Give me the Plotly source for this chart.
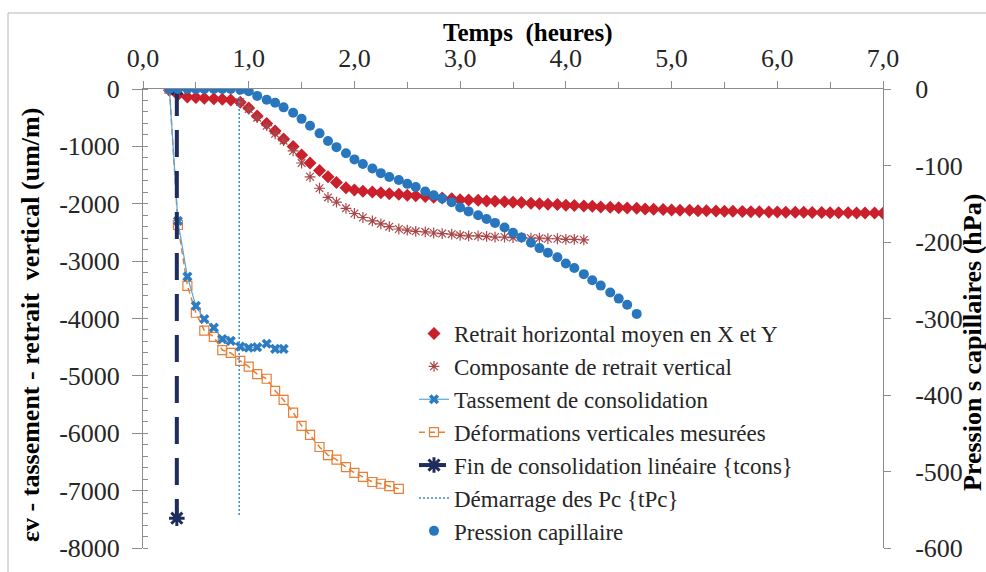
import plotly.graph_objects as go

# ---------------- data ----------------
# time grid (hours), one reading every 5 minutes
temps_h = [0.25, 0.33, 0.42, 0.50, 0.58, 0.67, 0.75, 0.83, 0.92, 1.00,
           1.08, 1.17, 1.25, 1.33, 1.42, 1.50, 1.58, 1.67, 1.75, 1.83,
           1.92, 2.00, 2.08, 2.17, 2.25, 2.33, 2.42, 2.50, 2.58, 2.67,
           2.75, 2.83, 2.92, 3.00, 3.08, 3.17, 3.25, 3.33, 3.42, 3.50,
           3.58, 3.67, 3.75, 3.83, 3.92, 4.00, 4.08, 4.17, 4.25, 4.33,
           4.42, 4.50, 4.58, 4.67, 4.75, 4.83, 4.92, 5.00, 5.08, 5.17,
           5.25, 5.33, 5.42, 5.50, 5.58, 5.67, 5.75, 5.83, 5.92, 6.00,
           6.08, 6.17, 6.25, 6.33, 6.42, 6.50, 6.58, 6.67, 6.75, 6.83,
           6.92, 7.00]

# Retrait horizontal moyen en X et Y (um/m), from t = 0.25 h
retrait_horizontal = [-20, -100, -140, -150, -160, -170, -180, -190, -230, -330,
                      -470, -600, -730, -870, -1000, -1150, -1290, -1420, -1530, -1630,
                      -1720, -1760, -1780, -1795, -1810, -1825, -1835, -1850, -1860, -1875,
                      -1885, -1900, -1915, -1930, -1935, -1940, -1950, -1955, -1965, -1975,
                      -1980, -1990, -2000, -2010, -2015, -2025, -2030, -2040, -2045, -2055,
                      -2060, -2070, -2075, -2080, -2090, -2095, -2100, -2110, -2112, -2115,
                      -2120, -2122, -2125, -2130, -2132, -2135, -2138, -2140, -2142, -2145,
                      -2147, -2148, -2150, -2152, -2153, -2155, -2157, -2158, -2160, -2162,
                      -2163, -2165]

# Composante de retrait vertical (um/m), from t = 0.92 h
temps_composante = [0.92, 1.00, 1.08, 1.17, 1.25, 1.33, 1.42, 1.50, 1.58, 1.67,
                    1.75, 1.83, 1.92, 2.00, 2.08, 2.17, 2.25, 2.33, 2.42, 2.50,
                    2.58, 2.67, 2.75, 2.83, 2.92, 3.00, 3.08, 3.17, 3.25, 3.33,
                    3.42, 3.50, 3.58, 3.67, 3.75, 3.83, 3.92, 4.00, 4.08, 4.17]
composante_verticale = [-230, -350, -500, -640, -780, -900, -1080, -1290, -1530, -1730,
                        -1890, -1970, -2080, -2170, -2240, -2300, -2350, -2400, -2440, -2460,
                        -2480, -2490, -2510, -2520, -2530, -2550, -2560, -2560, -2570, -2580,
                        -2580, -2590, -2590, -2600, -2600, -2610, -2610, -2620, -2620, -2630]

# Tassement de consolidation (um/m), from t = 0.25 h
tassement = [0, -2300, -3270, -3780, -4010, -4160, -4360, -4390, -4490, -4510,
             -4500, -4440, -4530, -4530]

# Deformations verticales mesurees (um/m), from t = 0.25 h
deformations = [0, -2370, -3430, -3900, -4210, -4320, -4550, -4600, -4740, -4840,
                -4970, -5050, -5260, -5420, -5640, -5870, -6030, -6240, -6380, -6460,
                -6590, -6690, -6760, -6850, -6880, -6920, -6970]

# Fin de consolidation lineaire {tcons}
t_cons = [0.32, 0.32]
y_cons = [0, -7480]

# Demarrage des Pc {tPc}
t_pc = [0.91, 0.91]
y_pc = [0, -7450]

# Pression capillaire (hPa), from t = 0.25 h
pression = [0, 0, 0, 0, 0, 0, 0, 0, -1, -3,
            -9, -14, -18, -24, -31, -39, -48, -58, -68, -76,
            -84, -92, -98, -104, -110, -115, -119, -124, -128, -134,
            -139, -143, -148, -155, -160, -165, -170, -175, -181, -188,
            -194, -201, -208, -214, -220, -228, -234, -242, -250, -257,
            -266, -274, -282, -294]

x_ticks = [0, 1, 2, 3, 4, 5, 6, 7]
x_ticklabels = ["0,0", "1,0", "2,0", "3,0", "4,0", "5,0", "6,0", "7,0"]
y_ticks = [0, -1000, -2000, -3000, -4000, -5000, -6000, -7000, -8000]
y_ticklabels = ["0", "-1000", "-2000", "-3000", "-4000", "-5000", "-6000", "-7000", "-8000"]
y2_ticks = [0, -100, -200, -300, -400, -500, -600]
y2_ticklabels = ["0", "-100", "-200", "-300", "-400", "-500", "-600"]

# ---------------- figure ----------------
SERIF = "Liberation Serif"
TXT = "#262626"
AX = "#8C8C8C"

fig = go.Figure()

fig.add_trace(go.Scatter(
    x=temps_h[:len(retrait_horizontal)], y=retrait_horizontal, mode="markers",
    name="Retrait horizontal moyen en X et Y", legendrank=1,
    marker=dict(symbol="diamond", size=10, color="#CC1F2C")))

fig.add_trace(go.Scatter(
    x=temps_composante, y=composante_verticale, mode="markers",
    name="Composante de retrait vertical", legendrank=2,
    marker=dict(symbol="asterisk-open", size=9, color="#A8474A",
                line=dict(width=1.2, color="#A8474A"))))

fig.add_trace(go.Scatter(
    x=temps_h[:len(deformations)], y=deformations, mode="lines+markers",
    name="Déformations verticales mesurées", legendrank=4,
    line=dict(color="#E87E34", width=1.5, dash="6px,4px"),
    marker=dict(symbol="square-open", size=9, color="#E87E34",
                line=dict(width=1.2, color="#E87E34"))))

fig.add_trace(go.Scatter(
    x=temps_h[:len(tassement)], y=tassement, mode="lines+markers",
    name="Tassement de consolidation", legendrank=3,
    line=dict(color="#55A7DE", width=1.2),
    marker=dict(symbol="x", size=9, color="#2D7CC1")))

fig.add_trace(go.Scatter(
    x=t_cons, y=y_cons, mode="lines+markers",
    name="Fin de consolidation linéaire {tcons}", legendrank=5,
    line=dict(color="#1F2D5C", width=4, dash="27px,14px"),
    marker=dict(symbol="asterisk-open", size=13, color="#1F2D5C",
                line=dict(width=3, color="#1F2D5C"))))

fig.add_trace(go.Scatter(
    x=t_pc, y=y_pc, mode="lines",
    name="Démarrage des Pc {tPc}", legendrank=6,
    line=dict(color="#3D8BD1", width=1.5, dash="2px,2px")))

fig.add_trace(go.Scatter(
    x=temps_h[:len(pression)], y=pression, mode="markers", yaxis="y2",
    name="Pression capillaire", legendrank=7,
    marker=dict(symbol="circle", size=10, color="#2876BE")))

W, H = 986, 572
L, R, T, B = 143, 103, 89, 24
PW, PH = W - L - R, H - T - B


def px(xp):
    return (xp - L) / PW


def py(yp):
    return (H - B - yp) / PH


fig.update_layout(
    width=W, height=H,
    margin=dict(l=L, r=R, t=T, b=B, pad=0, autoexpand=False),
    paper_bgcolor="white", plot_bgcolor="white",
    font=dict(family=SERIF, size=26, color=TXT),
    showlegend=True,
    legend=dict(x=px(414), y=py(312), xanchor="left", yanchor="top",
                bgcolor="rgba(0,0,0,0)", borderwidth=0,
                font=dict(family=SERIF, size=23, color=TXT),
                tracegroupgap=0, itemwidth=30),
    xaxis=dict(side="top", range=[0, 7], tickvals=x_ticks, ticktext=x_ticklabels,
               showline=True, linecolor=AX, linewidth=1, showgrid=False, zeroline=False,
               ticks="outside", ticklen=7, tickcolor=AX, ticklabelstandoff=4,
               automargin=False,
               minor=dict(dtick=0.5, ticks="outside", ticklen=6, tickcolor=AX, showgrid=False),
               tickfont=dict(family=SERIF, size=26, color=TXT)),
    yaxis=dict(range=[-8000, 0], tickvals=y_ticks, ticktext=y_ticklabels,
               showline=True, linecolor=AX, linewidth=1, showgrid=False, zeroline=False,
               ticks="outside", ticklen=10, tickcolor=AX, ticklabelstandoff=7,
               automargin=False,
               minor=dict(dtick=200, ticks="inside", ticklen=5, tickcolor=AX, showgrid=False),
               tickfont=dict(family=SERIF, size=26, color=TXT)),
    yaxis2=dict(range=[-600, 0], overlaying="y", side="right",
                tickvals=y2_ticks, ticktext=y2_ticklabels,
                showline=True, linecolor=AX, linewidth=1, showgrid=False, zeroline=False,
                ticks="outside", ticklen=7, tickcolor=AX, ticklabelstandoff=19,
                automargin=False,
                tickfont=dict(family=SERIF, size=26, color=TXT)),
    annotations=[
        dict(text="<b>Temps  (heures)</b>", x=px(527), y=py(33), xref="paper", yref="paper",
             showarrow=False, xanchor="center", yanchor="middle",
             font=dict(family=SERIF, size=25, color="black")),
        dict(text="<b>εv - tassement - retrait  vertical (um/m)</b>", x=px(30), y=py(325),
             xref="paper", yref="paper", showarrow=False, textangle=-90,
             xanchor="center", yanchor="middle",
             font=dict(family=SERIF, size=26, color="black")),
        dict(text="<b>Pression s capillaires (hPa)</b>", x=px(972), y=py(343),
             xref="paper", yref="paper", showarrow=False, textangle=-90,
             xanchor="center", yanchor="middle",
             font=dict(family=SERIF, size=26, color="black")),
    ],
    shapes=[
        dict(type="rect", xref="paper", yref="paper",
             x0=px(8), y0=py(13), x1=px(1010), y1=py(600),
             line=dict(color="#B4B4B4", width=1), fillcolor="rgba(0,0,0,0)", layer="below"),
    ],
)

fig.write_html("out.html", config={"displayModeBar": False},
               post_script="document.body.style.margin='0px';")
